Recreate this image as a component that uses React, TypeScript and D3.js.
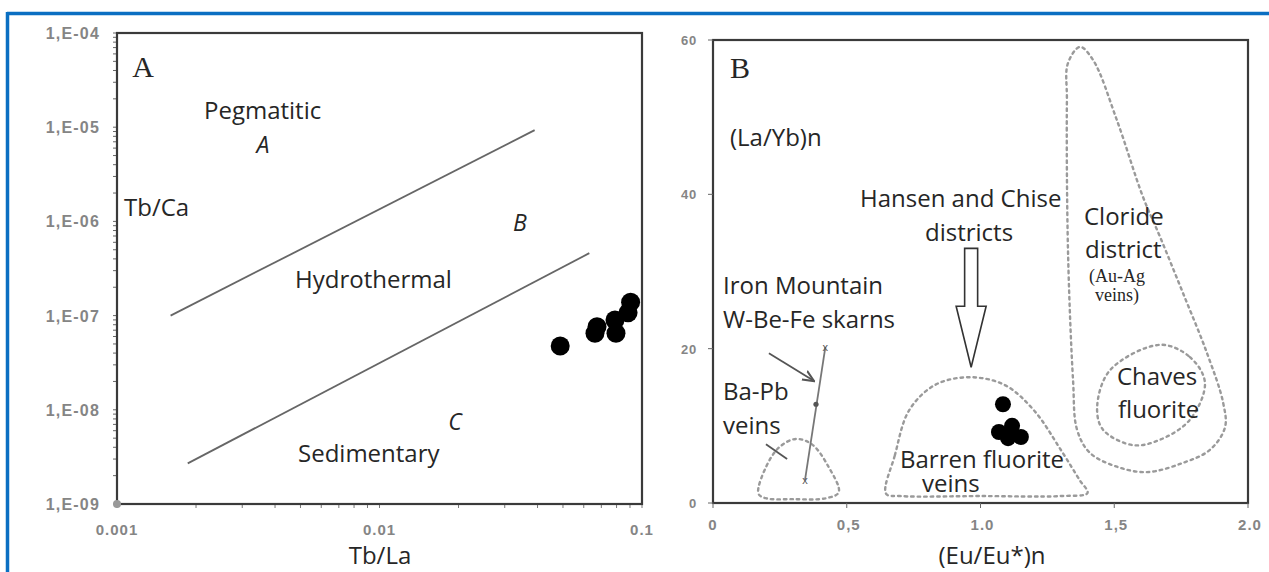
import React from "react";
import * as d3 from "d3";

// panel A: Tb/La vs Tb/Ca (log-log)
const aYTicks = [1e-4, 1e-5, 1e-6, 1e-7, 1e-8, 1e-9];
const aYTickLabels = ["1,E-04", "1,E-05", "1,E-06", "1,E-07", "1,E-08", "1,E-09"];
const aXTicks = [0.001, 0.01, 0.1];
const aXTickLabels = ["0.001", "0.01", "0.1"];
const tbLa = [0.0488, 0.0662, 0.0674, 0.0789, 0.0796, 0.0885, 0.0905];
const tbCa = [4.75e-8, 6.5e-8, 7.6e-8, 9.0e-8, 6.5e-8, 1.07e-7, 1.39e-7];
const upperBoundary: [number, number][] = [[0.0016, 1.0e-7], [0.039, 9.3e-6]];
const lowerBoundary: [number, number][] = [[0.00186, 2.7e-9], [0.063, 4.6e-7]];

// panel B: (Eu/Eu*)n vs (La/Yb)n
const bXTicks = [0, 0.5, 1.0, 1.5, 2.0];
const bXTickLabels = ["0", "0,5", "1.0", "1,5", "2.0"];
const bYTicks = [0, 20, 40, 60];
const bYTickLabels = ["0", "20", "40", "60"];
const euEu = [1.084, 1.069, 1.118, 1.151, 1.103];
const laYb = [12.8, 9.2, 10.0, 8.55, 8.4];
const ironX = [0.344, 0.385, 0.42];
const ironY = [3.0, 12.8, 20.2];

const baPbField: [number, number][] = [
  [0.17, 1.2], [0.2, 4.8], [0.25, 7.3], [0.31, 8.3], [0.37, 7.6],
  [0.43, 4.8], [0.47, 1.4], [0.42, 0.6], [0.3, 0.5], [0.2, 0.6]
];
const barrenField: [number, number][] = [
  [0.647, 1.2], [0.68, 6.2], [0.733, 12.0], [0.83, 15.3], [0.96, 16.3],
  [1.09, 15.3], [1.2, 12.0], [1.3, 6.9], [1.37, 3.0], [1.4, 1.3],
  [1.3, 0.9], [1.0, 0.9], [0.7, 0.9]
];
const clorideField: [number, number][] = [
  [1.372, 59.1], [1.327, 57.0], [1.323, 52.2], [1.327, 32.8], [1.346, 15.9],
  [1.361, 9.5], [1.409, 6.5], [1.51, 4.7], [1.622, 4.0], [1.757, 5.2],
  [1.858, 6.9], [1.914, 9.8], [1.907, 13.0], [1.847, 19.4], [1.757, 27.2],
  [1.671, 34.5], [1.607, 39.7], [1.51, 49.6], [1.421, 57.4]
];
const chavesField: [number, number][] = [
  [1.671, 20.5], [1.783, 18.9], [1.839, 15.6], [1.783, 10.8], [1.671, 8.2],
  [1.57, 7.5], [1.458, 9.5], [1.436, 12.4], [1.484, 17.2]
];
const pointerSkarn: [number, number][] = [[0.209, 19.4], [0.378, 15.8]];
const pointerBaPb: [number, number][] = [[0.198, 7.6], [0.277, 5.7]];

const W = 1269;
const H = 572;
const sans = "'Open Sans', sans-serif";
const serif = "'Liberation Serif', 'Times New Roman', serif";
const tickFont = "'Liberation Sans', Arial, sans-serif";
const ink = "#262626";
const tickGray = "#858585";

const xA = d3.scaleLog().domain([0.001, 0.1]).range([117, 642]);
const yA = d3.scaleLog().domain([1e-9, 1e-4]).range([504, 33]);
const xB = d3.scaleLinear().domain([0, 2]).range([713, 1248]);
const yB = d3.scaleLinear().domain([0, 60]).range([503, 40]);

const fieldLine = d3
  .line<[number, number]>()
  .x(d => xB(d[0]))
  .y(d => yB(d[1]))
  .curve(d3.curveCatmullRomClosed.alpha(0.5));

const Label = ({ x, y, t, size = 24, anchor = "start", italic = false, font = sans }: any) => (
  <text x={x} y={y} fontFamily={font} fontSize={size} fill={ink} textAnchor={anchor}
    fontStyle={italic ? "italic" : "normal"}>{t}</text>
);

const App = () => {
  const minorX = xA.ticks();
  const minorY = yA.ticks();

  // hollow arrow under "districts"
  const ax = xB(0.965);
  const aTop = yB(33);
  const aNeck = yB(25.5);
  const aTip = yB(17.6);
  const arrow = [
    [ax - 6.5, aTop], [ax + 6.5, aTop], [ax + 6.5, aNeck], [ax + 15, aNeck],
    [ax, aTip], [ax - 15, aNeck], [ax - 6.5, aNeck]
  ].map(p => p.join(",")).join(" ");

  return (
    <svg width={W} height={H} style={{ position: "absolute", left: 0, top: 0, background: "#fff" }}>
      <defs>
        <marker id="head" viewBox="0 0 10 10" refX="9" refY="5" markerWidth="7" markerHeight="7" orient="auto">
          <path d="M0,1 L9,5 L0,9" fill="none" stroke="#555" strokeWidth="1.6" />
        </marker>
      </defs>

      {/* blue frame */}
      <line x1={7} x2={W} y1={13.5} y2={13.5} stroke="#0b6fc2" strokeWidth={3.5} />
      <line x1={7.5} x2={7.5} y1={12} y2={H} stroke="#0b6fc2" strokeWidth={3.5} />

      {/* ---------- panel A ---------- */}
      <g>
        {minorY.map((v, i) => (
          <line key={"my" + i} x1={xA.range()[0] - 4} x2={xA.range()[0]} y1={yA(v)} y2={yA(v)}
            stroke="#666" strokeWidth={1} />
        ))}
        {minorX.map((v, i) => (
          <line key={"mx" + i} x1={xA(v)} x2={xA(v)} y1={yA.range()[0]} y2={yA.range()[0] + 4}
            stroke="#777" strokeWidth={1} />
        ))}
        <rect x={117} y={33} width={642 - 117} height={504 - 33} fill="none" stroke="#3a3a3a" strokeWidth={2.2} />
        <circle cx={xA(0.001)} cy={yA(1e-9)} r={4} fill="#999" />
        {aYTicks.map((v, i) => (
          <text key={"ay" + i} x={100} y={yA(v) + 6} textAnchor="end" fontFamily={tickFont}
            fontWeight="bold" fontSize={16} letterSpacing={1.2} fill={tickGray}>{aYTickLabels[i]}</text>
        ))}
        {aXTicks.map((v, i) => (
          <text key={"ax" + i} x={xA(v)} y={535} textAnchor="middle" fontFamily={tickFont}
            fontWeight="bold" fontSize={15} letterSpacing={1} fill={tickGray}>{aXTickLabels[i]}</text>
        ))}
        {[upperBoundary, lowerBoundary].map((ln, i) => (
          <line key={"bd" + i} x1={xA(ln[0][0])} y1={yA(ln[0][1])} x2={xA(ln[1][0])} y2={yA(ln[1][1])}
            stroke="#666" strokeWidth={1.8} />
        ))}
        {tbLa.map((v, i) => (
          <circle key={"pa" + i} cx={xA(v)} cy={yA(tbCa[i])} r={9.5} fill="#000" />
        ))}
        <Label x={143} y={77} t="A" size={30} anchor="middle" font={serif} />
        <Label x={204} y={119} t="Pegmatitic" />
        <Label x={263} y={153} t="A" size={23} anchor="middle" italic />
        <Label x={124} y={216} t="Tb/Ca" />
        <Label x={520} y={231} t="B" size={23} anchor="middle" italic />
        <Label x={295} y={288} t="Hydrothermal" />
        <Label x={455} y={430} t="C" size={23} anchor="middle" italic />
        <Label x={298} y={462} t="Sedimentary" />
        <Label x={380} y={564} t="Tb/La" anchor="middle" />
      </g>

      {/* ---------- panel B ---------- */}
      <g>
        <rect x={713} y={40} width={1248 - 713} height={503 - 40} fill="none" stroke="#3a3a3a" strokeWidth={2.2} />
        {bYTicks.map((v, i) => (
          <g key={"by" + i}>
            <line x1={xB(0) - 5} x2={xB(0)} y1={yB(v)} y2={yB(v)} stroke="#666" strokeWidth={1} />
            <text x={697} y={yB(v) + 5} textAnchor="end" fontFamily={tickFont} fontWeight="bold"
              fontSize={13} letterSpacing={0.8} fill={tickGray}>{bYTickLabels[i]}</text>
          </g>
        ))}
        {bXTicks.map((v, i) => (
          <g key={"bx" + i}>
            <line x1={xB(v)} x2={xB(v)} y1={yB(0)} y2={yB(0) + 5} stroke="#666" strokeWidth={1} />
            <text x={xB(v) + (i === 0 ? 0 : 2)} y={530} textAnchor="middle" fontFamily={tickFont}
              fontWeight="bold" fontSize={15} letterSpacing={1} fill={tickGray}>{bXTickLabels[i]}</text>
          </g>
        ))}

        {[baPbField, barrenField, clorideField, chavesField].map((f, i) => (
          <path key={"fd" + i} d={fieldLine(f) || ""} fill="none" stroke="#9a9a9a" strokeWidth={2.4}
            strokeDasharray="2.5,4" strokeLinecap="round" />
        ))}

        {/* Iron Mountain trend */}
        <line x1={xB(ironX[0])} y1={yB(ironY[0])} x2={xB(ironX[2])} y2={yB(ironY[2])} stroke="#777" strokeWidth={1.8} />
        {[0, 2].map(i => (
          <text key={"im" + i} x={xB(ironX[i])} y={yB(ironY[i]) + 4} textAnchor="middle" fontFamily={tickFont}
            fontSize={11} fill="#555">x</text>
        ))}
        <circle cx={xB(ironX[1])} cy={yB(ironY[1])} r={2.6} fill="#555" />

        {/* pointers */}
        <line x1={xB(pointerSkarn[0][0])} y1={yB(pointerSkarn[0][1])} x2={xB(pointerSkarn[1][0])} y2={yB(pointerSkarn[1][1])}
          stroke="#555" strokeWidth={1.8} markerEnd="url(#head)" />
        <line x1={xB(pointerBaPb[0][0])} y1={yB(pointerBaPb[0][1])} x2={xB(pointerBaPb[1][0])} y2={yB(pointerBaPb[1][1])}
          stroke="#555" strokeWidth={1.8} />

        <polygon points={arrow} fill="#fff" stroke="#333" strokeWidth={1.6} />

        {euEu.map((v, i) => (
          <circle key={"pb" + i} cx={xB(v)} cy={yB(laYb[i])} r={8} fill="#000" />
        ))}

        <Label x={740} y={78} t="B" size={30} anchor="middle" font={serif} />
        <Label x={730} y={146} t="(La/Yb)n" />
        <Label x={860} y={207} t="Hansen and Chise" />
        <Label x={925} y={241} t="districts" />
        <Label x={1084} y={225} t="Cloride" />
        <Label x={1085} y={258} t="district" />
        <Label x={1089} y={282} t="(Au-Ag" size={18} font={serif} />
        <Label x={1095} y={301} t="veins)" size={18} font={serif} />
        <Label x={723} y={294} t="Iron Mountain" />
        <Label x={723} y={328} t="W-Be-Fe skarns" />
        <Label x={723} y={400} t="Ba-Pb" />
        <Label x={723} y={434} t="veins" />
        <Label x={900} y={468} t="Barren fluorite" />
        <Label x={922} y={492} t="veins" />
        <Label x={1117} y={385} t="Chaves" />
        <Label x={1118} y={418} t="fluorite" />
        <Label x={992} y={564} t="(Eu/Eu*)n" anchor="middle" />
      </g>
    </svg>
  );
};

export default App;
